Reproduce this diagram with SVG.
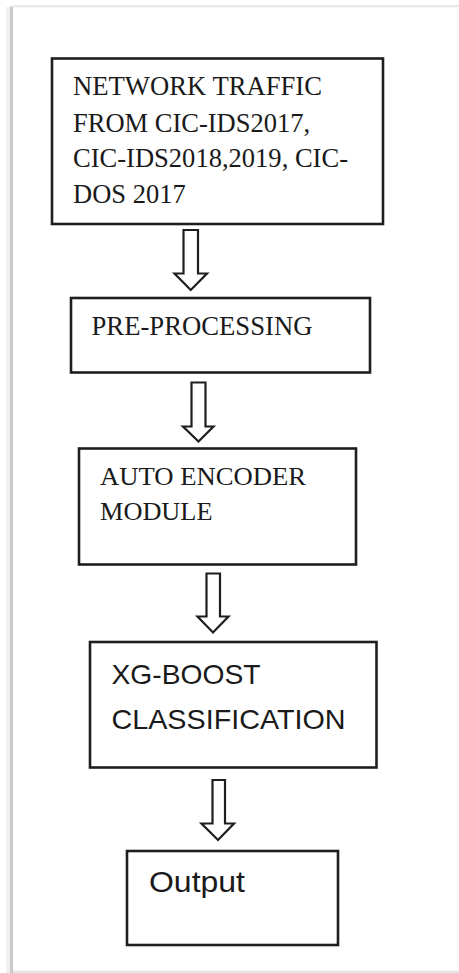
<svg xmlns="http://www.w3.org/2000/svg" width="459" height="973" viewBox="0 0 459 973">
  <style>
    .box { fill: #ffffff; stroke: #1e1e1e; stroke-width: 2.6; }
    .arrow { fill: #ffffff; stroke: #1e1e1e; stroke-width: 2.2; stroke-linejoin: miter; }
    .serif { font-family: "Liberation Serif", "Times New Roman", serif; fill: #1a1a1a; }
    .sans { font-family: "Liberation Sans", Arial, sans-serif; fill: #1a1a1a; }
  </style>

  <!-- page background and frame -->
  <rect x="0" y="0" width="459" height="973" fill="#ffffff"/>
  <rect x="10" y="5" width="449" height="2.5" fill="#ebebeb"/>
  <rect x="6" y="7" width="5" height="966" fill="#f0f0f0"/>
  <rect x="10" y="7" width="3" height="966" fill="#c9c9c9"/>
  <rect x="13" y="970.5" width="446" height="2.5" fill="#e6e6e6"/>

  <!-- connectors -->
  <g id="connectors">
    <path class="arrow" d="M183.5,230 H198 V273.5 H207 L190.75,290 L174.5,273.5 H183.5 Z"/>
    <path class="arrow" d="M191.5,382.5 H205.5 V426.5 H213.5 L198.5,441.5 L183,426.5 H191.5 Z"/>
    <path class="arrow" d="M206.5,573.5 H220 V616.5 H228.5 L213,632.5 L197.5,616.5 H206.5 Z"/>
    <path class="arrow" d="M212.5,780 H225 V823.5 H234 L218,840 L201.5,823.5 H212.5 Z"/>
  </g>

  <!-- source data -->
  <g id="node-traffic">
    <rect class="box" x="52" y="58.5" width="331" height="165.5"/>
    <text class="serif" font-size="26.5">
      <tspan x="73" y="95" textLength="249" lengthAdjust="spacingAndGlyphs">NETWORK TRAFFIC</tspan>
      <tspan x="73" y="131.5">FROM CIC-IDS2017,</tspan>
      <tspan x="73" y="167" textLength="275" lengthAdjust="spacingAndGlyphs">CIC-IDS2018,2019, CIC-</tspan>
      <tspan x="73" y="202.5">DOS 2017</tspan>
    </text>
  </g>

  <g id="node-preprocessing">
    <rect class="box" x="71" y="298" width="299" height="74.5"/>
    <text class="serif" font-size="26.5" x="91.5" y="334.5" textLength="221" lengthAdjust="spacingAndGlyphs">PRE-PROCESSING</text>
  </g>

  <g id="node-autoencoder">
    <rect class="box" x="79" y="448.5" width="277" height="116"/>
    <text class="serif" font-size="25.5">
      <tspan x="100" y="485" textLength="206" lengthAdjust="spacingAndGlyphs">AUTO ENCODER</tspan>
      <tspan x="100" y="520" textLength="112.5" lengthAdjust="spacingAndGlyphs">MODULE</tspan>
    </text>
  </g>

  <g id="node-xgboost">
    <rect class="box" x="90" y="642" width="286.5" height="125.5"/>
    <text class="sans" font-size="28">
      <tspan x="111.5" y="683.5" textLength="148.5" lengthAdjust="spacingAndGlyphs">XG-BOOST</tspan>
      <tspan x="111.5" y="728.5" textLength="234" lengthAdjust="spacingAndGlyphs">CLASSIFICATION</tspan>
    </text>
  </g>

  <g id="node-output">
    <rect class="box" x="127" y="851" width="211" height="94"/>
    <text class="sans" font-size="29" x="149" y="892" textLength="96" lengthAdjust="spacingAndGlyphs">Output</text>
  </g>
</svg>
